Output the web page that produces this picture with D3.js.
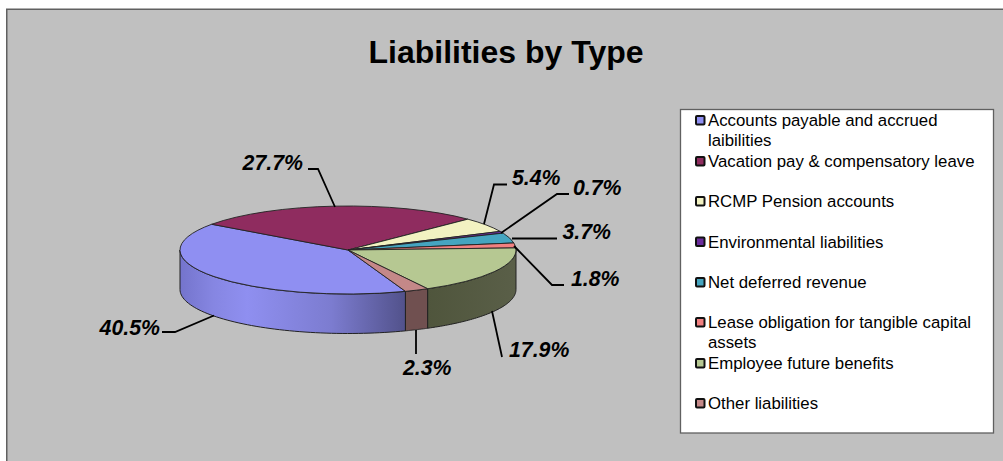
<!DOCTYPE html>
<html>
<head>
<meta charset="utf-8">
<script src="https://cdn.jsdelivr.net/npm/d3@7/dist/d3.min.js"></script>
<style>
html,body{margin:0;padding:0;background:#fff;overflow:hidden;}
svg{display:block;}
text{font-family:"Liberation Sans",Arial,sans-serif;fill:#000;}
</style>
</head>
<body>
<div id="chart"></div>
<script>
// Liability categories and their share of the total, in percent
const categories = [
  "Accounts payable and accrued laibilities",
  "Vacation pay & compensatory leave",
  "RCMP Pension accounts",
  "Environmental liabilities",
  "Net deferred revenue",
  "Lease obligation for tangible capital assets",
  "Employee future benefits",
  "Other liabilities"
];
const shares = [40.5, 27.7, 5.4, 0.7, 3.7, 1.8, 17.9, 2.3];
const topColors = ["#8F8FF2", "#8F2C5F", "#F2F2C2", "#6A2C9C", "#45A5C0", "#F28080", "#B6C892", "#C48888"];
const legendLines = [
  ["Accounts payable and accrued", "laibilities"],
  ["Vacation pay & compensatory leave"],
  ["RCMP Pension accounts"],
  ["Environmental liabilities"],
  ["Net deferred revenue"],
  ["Lease obligation for tangible capital", "assets"],
  ["Employee future benefits"],
  ["Other liabilities"]
];
const title = "Liabilities by Type";

const width = 1003, height = 461;
const cx = 348, cy = 250, rx = 168, ry = 44, depth = 39.5;
const rotation = 160 * Math.PI / 180;

const svg = d3.select("#chart").append("svg").attr("width", width).attr("height", height);
const defs = svg.append("defs");

// Chart area, its right and lower edges run off the page
svg.append("rect").attr("x", 6.75).attr("y", 9.25).attr("width", 1010).attr("height", 470)
  .attr("fill", "#C0C0C0").attr("stroke", "#606060").attr("stroke-width", 1.5);

svg.append("text").attr("x", 506).attr("y", 62.5).attr("text-anchor", "middle")
  .attr("font-size", 32).attr("font-weight", "bold").text(title);

// Slices laid out clockwise from the rotated first-slice angle
const arcs = d3.pie().sort(null).value(d => d)
  .startAngle(rotation).endAngle(rotation + 2 * Math.PI)(shares);

// Ellipse projection of a pie angle, with an optional drop for the lower rim
const px = a => cx + rx * Math.sin(a);
const py = (a, drop = 0) => cy - ry * Math.cos(a) + drop;

const rimLine = d3.line();
function wallPath(a0, a1) {
  const steps = d3.range(0, 61).map(i => a0 + (a1 - a0) * i / 60);
  const upper = steps.map(a => [px(a), py(a)]);
  const lower = steps.slice().reverse().map(a => [px(a), py(a, depth)]);
  return rimLine(upper.concat(lower)) + "Z";
}

// Shaded fills for the walls that face the viewer
function wallGradient(id, stops) {
  const g = defs.append("linearGradient").attr("id", id)
    .attr("gradientUnits", "userSpaceOnUse")
    .attr("x1", cx - rx).attr("x2", cx + rx).attr("y1", 0).attr("y2", 0);
  stops.forEach(s => g.append("stop").attr("offset", s[0]).attr("stop-color", s[1]));
}
wallGradient("wall-accounts", [[0, "#7474CC"], [0.1, "#8686E2"], [0.2, "#8F8FF0"], [0.45, "#7C7CD0"], [0.68, "#505088"]]);
wallGradient("wall-benefits", [[0.73, "#4F553C"], [1, "#5A5F48"]]);
const wallFill = {0: "url(#wall-accounts)", 6: "url(#wall-benefits)", 7: "#705050"};

// Only the front half of the rim (90° to 270°) is visible
const walls = svg.append("g").attr("stroke", "#222").attr("stroke-width", 1).attr("stroke-linejoin", "round");
arcs.forEach(d => {
  const lo = Math.max(d.startAngle, Math.PI / 2);
  const hi = Math.min(d.endAngle, 1.5 * Math.PI);
  if (lo < hi) walls.append("path").attr("d", wallPath(lo, hi)).attr("fill", wallFill[d.index] || topColors[d.index]);
  // slices that wrap past a full turn reappear on the near side
  const lo2 = Math.max(d.startAngle, 2.5 * Math.PI);
  const hi2 = Math.min(d.endAngle, 3.5 * Math.PI);
  if (lo2 < hi2) walls.append("path").attr("d", wallPath(lo2, hi2)).attr("fill", wallFill[d.index] || topColors[d.index]);
});

// Top face: a circular arc flattened to an ellipse
const arcGen = d3.arc().innerRadius(0).outerRadius(rx);
svg.append("g").attr("transform", `translate(${cx},${cy}) scale(1,${ry / rx})`)
  .selectAll("path").data(arcs).join("path")
  .attr("d", arcGen)
  .attr("fill", d => topColors[d.index])
  .attr("stroke", "#222").attr("stroke-width", 0.9)
  .attr("vector-effect", "non-scaling-stroke")
  .attr("stroke-linejoin", "round");

// Value labels and their leader lines
const labelText = shares.map(v => v.toFixed(1) + "%");
const labelAnchors = [[160, 335], [303, 170], [512, 185], [573, 195], [562.5, 238.5], [571, 286], [509, 357], [403, 375]];
const leaderRoutes = [
  [[162, 332], [175, 332], [214, 315.5]],
  [[308, 169], [318, 169], [335, 207]],
  [[507, 184.5], [494, 184.5], [484, 224]],
  [[569, 194], [557, 194], [501, 233]],
  [[557, 238.5], [512, 238.5]],
  [[564, 285], [552, 285], [514, 246]],
  [[502, 357], [492, 311]],
  [[416, 354], [416, 330]]
];
svg.append("g").selectAll("path").data(leaderRoutes).join("path")
  .attr("d", d3.line()).attr("fill", "none").attr("stroke", "#000").attr("stroke-width", 1.8);
svg.append("g").selectAll("text").data(labelText).join("text")
  .attr("x", (d, i) => labelAnchors[i][0]).attr("y", (d, i) => labelAnchors[i][1])
  .attr("text-anchor", (d, i) => (i < 2 ? "end" : "start"))
  .attr("font-size", 21.3).attr("font-weight", "bold").attr("font-style", "italic")
  .text(d => d);

// Legend
svg.append("rect").attr("x", 680.5).attr("y", 109.5).attr("width", 313).attr("height", 323.5)
  .attr("fill", "#fff").attr("stroke", "#606060").attr("stroke-width", 1.3);
const rowY = [120, 161, 201, 241.5, 282, 322, 363, 403];
const rows = svg.append("g").selectAll("g").data(categories).join("g")
  .attr("transform", (d, i) => `translate(696,${rowY[i]})`);
rows.append("rect").attr("x", 0).attr("y", -4).attr("width", 8.5).attr("height", 8.5)
  .attr("rx", 1).attr("fill", (d, i) => topColors[i]).attr("stroke", "#111").attr("stroke-width", 2);
rows.each(function (d, i) {
  d3.select(this).selectAll("text").data(legendLines[i]).join("text")
    .attr("x", 12).attr("y", (t, k) => 6 + k * 20).attr("font-size", 16.8).text(t => t);
});
</script>
</body>
</html>
